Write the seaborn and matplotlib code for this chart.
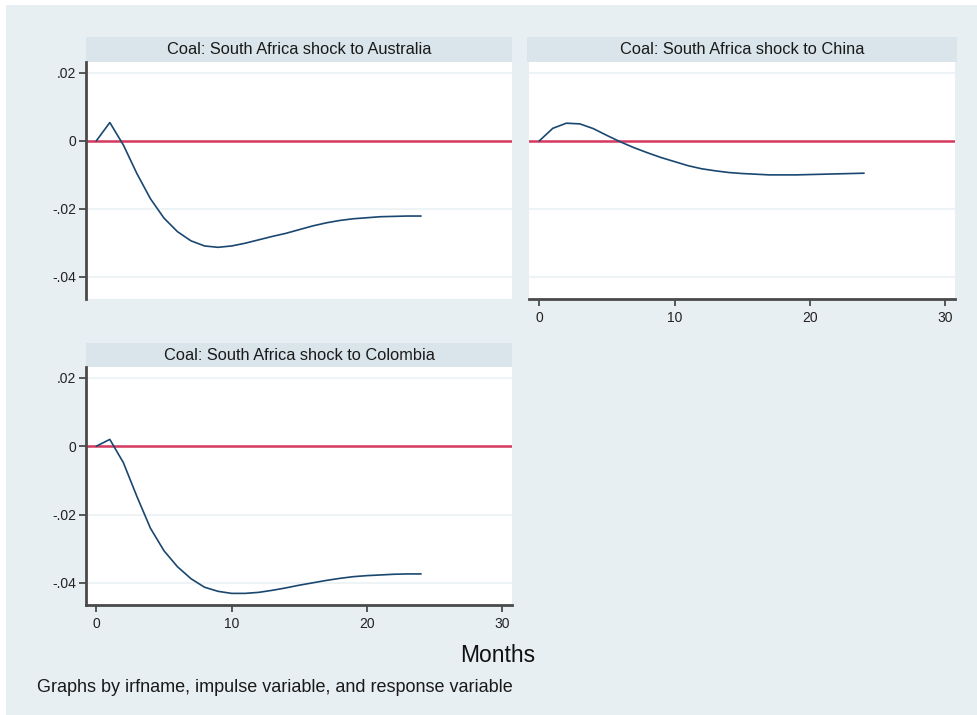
# %% Impulse responses: South Africa coal shock to other exporters
import numpy as np
import pandas as pd
import matplotlib
matplotlib.use('Agg')
import matplotlib.pyplot as plt
import seaborn as sns
from matplotlib.patches import Rectangle

# Data
months = list(range(25))
australia = [0, 0.0054, -0.0012, -0.0096, -0.0170, -0.0227, -0.0267, -0.0294, -0.0309,
             -0.0313, -0.0309, -0.0301, -0.0291, -0.0281, -0.0272, -0.0261, -0.0250,
             -0.0241, -0.0234, -0.0229, -0.0226, -0.0223, -0.0222, -0.0221, -0.0221]
china = [0, 0.0037, 0.0052, 0.0050, 0.0036, 0.0016, -0.0003, -0.0020, -0.0035,
         -0.0049, -0.0061, -0.0073, -0.0082, -0.0088, -0.0093, -0.0096, -0.0098,
         -0.0100, -0.0100, -0.0100, -0.0099, -0.0098, -0.0097, -0.0096, -0.0095]
colombia = [0, 0.0020, -0.0048, -0.0147, -0.0240, -0.0306, -0.0353, -0.0388, -0.0413,
            -0.0425, -0.0431, -0.0431, -0.0428, -0.0422, -0.0415, -0.0407, -0.0400,
            -0.0393, -0.0387, -0.0382, -0.0379, -0.0377, -0.0375, -0.0374, -0.0374]
responses = ['Australia', 'China', 'Colombia']
panel_titles = ['Coal: South Africa shock to Australia',
                'Coal: South Africa shock to China',
                'Coal: South Africa shock to Colombia']
y_ticks = [0.02, 0, -0.02, -0.04]
y_tick_labels = ['.02', '0', '-.02', '-.04']
x_ticks = [0, 10, 20, 30]

df = pd.DataFrame({
    'Months': months * 3,
    'irf': australia + china + colombia,
    'response': [r for r in responses for _ in months],
})

# Style
sns.set_style('white')
plt.rcParams['font.family'] = ['Liberation Sans', 'DejaVu Sans']

W, H = 977, 715
bg = '#e8eff2'
strip_color = '#d9e5ea'
line_color = '#1a476f'
red = '#d6395f'
axis_color = '#4a4a4a'


def rect(l, t, r, b):
    return [l / W, 1 - b / H, (r - l) / W, (b - t) / H]


fig = plt.figure(figsize=(W / 100, H / 100), dpi=100, facecolor='white')
fig.patches.append(Rectangle((6 / W, 0), 1, 1 - 5 / H, transform=fig.transFigure,
                             facecolor=bg, edgecolor='none', zorder=-10))

# (plot box in pixels, strip box in pixels, show y axis, show x axis)
layout = [
    ((86, 62, 512, 299), (86, 37, 512, 62), True, False),
    ((529, 62, 955, 299), (527, 37, 957, 62), False, True),
    ((86, 367, 512, 605), (86, 343, 512, 367), True, True),
]

for response, title, (box, strip, show_y, show_x) in zip(responses, panel_titles, layout):
    # Title strip
    sax = fig.add_axes(rect(*strip))
    sax.set_facecolor(strip_color)
    for s in sax.spines.values():
        s.set_visible(False)
    sax.set_xticks([])
    sax.set_yticks([])
    sax.text(0.5, 0.5, title, ha='center', va='center', fontsize=11.8, color='#1a1a1a',
             transform=sax.transAxes)

    ax = fig.add_axes(rect(*box))
    ax.set_facecolor('white')
    subset = df[df['response'] == response]
    ax.axhline(0, color=red, lw=1.8, zorder=2)
    sns.lineplot(data=subset, x='Months', y='irf', ax=ax, color=line_color, lw=1.2, zorder=3)
    ax.set_xlim(-0.76, 30.72)
    ax.set_ylim(-0.0465, 0.0232)
    ax.set_yticks(y_ticks)
    ax.set_yticklabels(y_tick_labels)
    ax.set_xticks(x_ticks)
    ax.yaxis.grid(True, color='#eef4f5', lw=1.5)
    ax.xaxis.grid(False)
    ax.set_axisbelow(True)
    ax.set_xlabel('')
    ax.set_ylabel('')
    for side in ['top', 'right']:
        ax.spines[side].set_visible(False)
    ax.spines['left'].set_visible(show_y)
    ax.spines['bottom'].set_visible(show_x)
    for side in ['left', 'bottom']:
        ax.spines[side].set_color(axis_color)
        ax.spines[side].set_linewidth(2)
    ax.tick_params(axis='y', left=show_y, labelleft=show_y, length=5, width=1.3,
                   color=axis_color, pad=2, labelsize=10, labelcolor='#222')
    ax.tick_params(axis='x', bottom=show_x, labelbottom=show_x, length=5, width=1.3,
                   color=axis_color, pad=4, labelsize=10, labelcolor='#222')

fig.text(498 / W, 1 - 656 / H, 'Months', ha='center', va='center', fontsize=16.5, color='#111')
fig.text(37 / W, 1 - 688 / H, 'Graphs by irfname, impulse variable, and response variable',
         ha='left', va='center', fontsize=13, color='#1a1a1a')

plt.savefig('out.png', dpi=100, facecolor=fig.get_facecolor())
